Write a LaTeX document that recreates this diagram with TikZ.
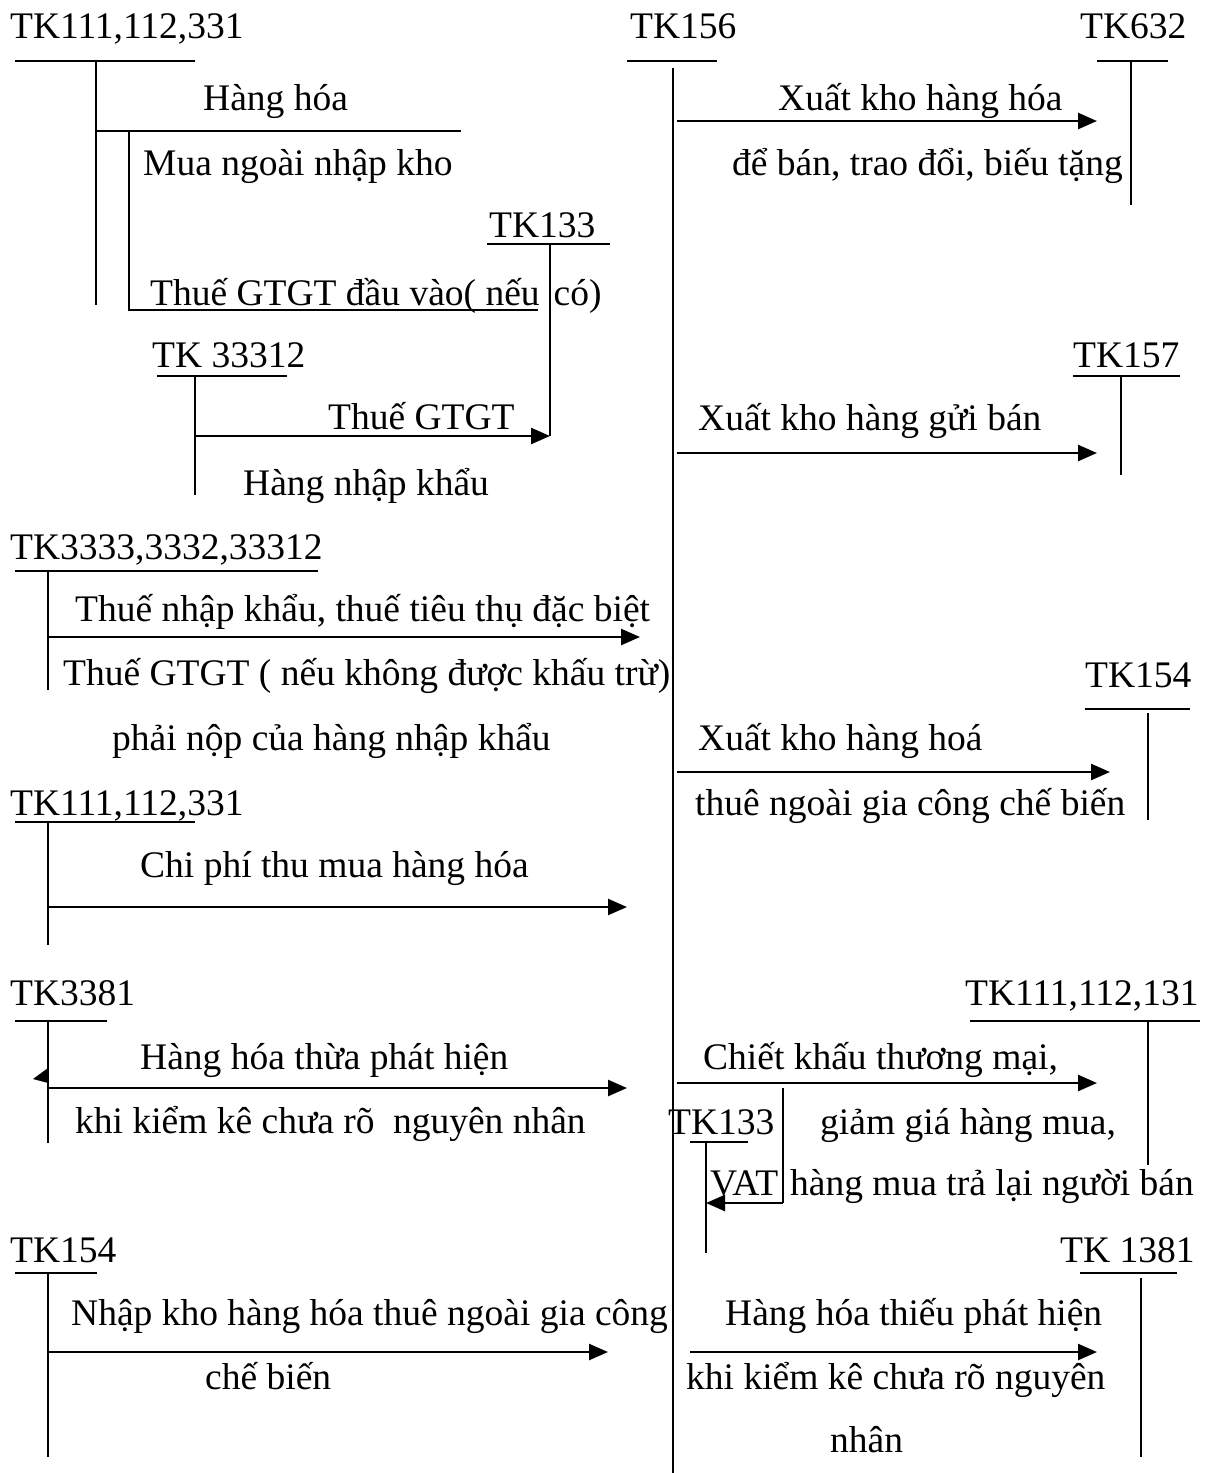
\documentclass[tikz,border=0pt]{standalone}
\usepackage{fontspec}
\setmainfont{Liberation Serif}
\usetikzlibrary{arrows.meta}
\newcommand\diagfont{\fontsize{37.5}{41}\selectfont}
\begin{document}
\begin{tikzpicture}[x=1pt,y=-1pt,
  lbl/.style={anchor=base west, inner sep=0pt, font=\diagfont},
  tline/.style={line width=1.7pt},
  flow/.style={line width=2.5pt, -{Triangle[length=19pt,width=16pt]}}]
\useasboundingbox (0,0) rectangle (1206,1473);
% ---------- labels ----------
\node[lbl] (a1) at (10,38) {TK111,112,331};
\node[lbl] (a156) at (630,38) {TK156};
\node[lbl] (a632) at (1080,38) {TK632};
\node[lbl] (t1) at (203,110) {Hàng hóa};
\node[lbl] (t2) at (778,110) {Xuất kho hàng hóa};
\node[lbl] (t3) at (143,175) {Mua ngoài nhập kho};
\node[lbl] (t4) at (732,175) {để bán, trao đổi, biếu tặng};
\node[lbl] (a133) at (489,237) {TK133};
\node[lbl] (t5) at (150,305) {Thuế GTGT đầu vào( nếu\hspace{14pt}có)};
\node[lbl] (a33312) at (152,367) {TK 33312};
\node[lbl] (a157) at (1073,367) {TK157};
\node[lbl] (t6) at (328,429) {Thuế GTGT};
\node[lbl] (t7) at (698,430) {Xuất kho hàng gửi bán};
\node[lbl] (t8) at (243,495) {Hàng nhập khẩu};
\node[lbl] (a3333) at (10,559) {TK3333,3332,33312};
\node[lbl] (t9) at (75,621) {Thuế nhập khẩu, thuế tiêu thụ đặc biệt};
\node[lbl] (t10) at (63,685) {Thuế GTGT ( nếu không được khấu trừ)};
\node[lbl] (a154r) at (1085,687) {TK154};
\node[lbl] (t11) at (112,750) {phải nộp của hàng nhập khẩu};
\node[lbl] (t12) at (698,750) {Xuất kho hàng hoá};
\node[lbl] (a111b) at (10,815) {TK111,112,331};
\node[lbl] (t13) at (695,815) {thuê ngoài gia công chế biến};
\node[lbl] (t14) at (140,877) {Chi phí thu mua hàng hóa};
\node[lbl] (a3381) at (10,1005) {TK3381};
\node[lbl] (a131) at (965,1005) {TK111,112,131};
\node[lbl] (t15) at (140,1069) {Hàng hóa thừa phát hiện};
\node[lbl] (t16) at (703,1069) {Chiết khấu thương mại,};
\node[lbl] (t17) at (75,1133) {khi kiểm kê chưa rõ\hspace{9pt} nguyên nhân};
\node[lbl] (a133b) at (668,1134) {TK133};
\node[lbl] (t18) at (820,1134) {giảm giá hàng mua,};
\node[lbl] (t19) at (710,1195) {VAT};
\node[lbl] (t20) at (790,1195) {hàng mua trả lại người bán};
\node[lbl] (a154l) at (10,1262) {TK154};
\node[lbl] (a1381) at (1060,1262) {TK 1381};
\node[lbl] (t21) at (71,1325) {Nhập kho hàng hóa thuê ngoài gia công};
\node[lbl] (t22) at (725,1325) {Hàng hóa thiếu phát hiện};
\node[lbl] (t23) at (205,1389) {chế biến};
\node[lbl] (t24) at (686,1389) {khi kiểm kê chưa rõ nguyên};
\node[lbl] (t25) at (830,1452) {nhân};
% ---------- T-accounts ----------
\draw[tline] (15,61) -- (195,61) (96,61) -- (96,305);
\draw[tline] (96,131) -- (461,131) (129,131) -- (129,310) -- (538,310);
\draw[tline] (627,61) -- (717,61) (673,68) -- (673,1473);
\draw[tline] (1097,61) -- (1168,61) (1131,61) -- (1131,205);
\draw[tline] (487,244) -- (610,244) (550,244) -- (550,436);
\draw[tline] (157,376) -- (287,376) (195,376) -- (195,495);
\draw[tline] (1073,376) -- (1180,376) (1121,376) -- (1121,475);
\draw[tline] (15,571) -- (318,571) (48,571) -- (48,690);
\draw[tline] (1085,709) -- (1190,709) (1148,713) -- (1148,820);
\draw[tline] (15,822) -- (195,822) (48,822) -- (48,945);
\draw[tline] (15,1021) -- (107,1021) (48,1021) -- (48,1143);
\draw[tline] (970,1021) -- (1200,1021) (1148,1021) -- (1148,1165);
\draw[tline] (690,1142) -- (748,1142) (706,1142) -- (706,1253);
\draw[tline] (1080,1273) -- (1177,1273) (1141,1278) -- (1141,1457);
\draw[tline] (15,1273) -- (97,1273) (48,1273) -- (48,1457);
\fill (48,1068) -- (48,1083) -- (33,1079) -- cycle;
% ---------- flows ----------
\coordinate (s1) at (677,121);  \coordinate (e1) at (1097,121);
\coordinate (s2) at (195,436);  \coordinate (e2) at (550,436);
\coordinate (s3) at (677,453);  \coordinate (e3) at (1097,453);
\coordinate (s4) at (48,637);   \coordinate (e4) at (640,637);
\coordinate (s5) at (677,772);  \coordinate (e5) at (1110,772);
\coordinate (s6) at (48,907);   \coordinate (e6) at (627,907);
\coordinate (s7) at (48,1088);  \coordinate (e7) at (627,1088);
\coordinate (s8) at (677,1083); \coordinate (e8) at (1097,1083);
\coordinate (s9) at (783,1088); \coordinate (m9) at (783,1203); \coordinate (e9) at (706,1203);
\coordinate (s10) at (690,1352); \coordinate (e10) at (1097,1352);
\coordinate (s11) at (48,1352); \coordinate (e11) at (608,1352);
\draw[flow] (s1) -- (e1);
\draw[flow] (s2) -- (e2);
\draw[flow] (s3) -- (e3);
\draw[flow] (s4) -- (e4);
\draw[flow] (s5) -- (e5);
\draw[flow] (s6) -- (e6);
\draw[flow] (s7) -- (e7);
\draw[flow] (s8) -- (e8);
\draw[tline] (s9) -- (m9);
\draw[flow] (m9) -- (e9);
\draw[flow] (s10) -- (e10);
\draw[flow] (s11) -- (e11);
\end{tikzpicture}
\end{document}
